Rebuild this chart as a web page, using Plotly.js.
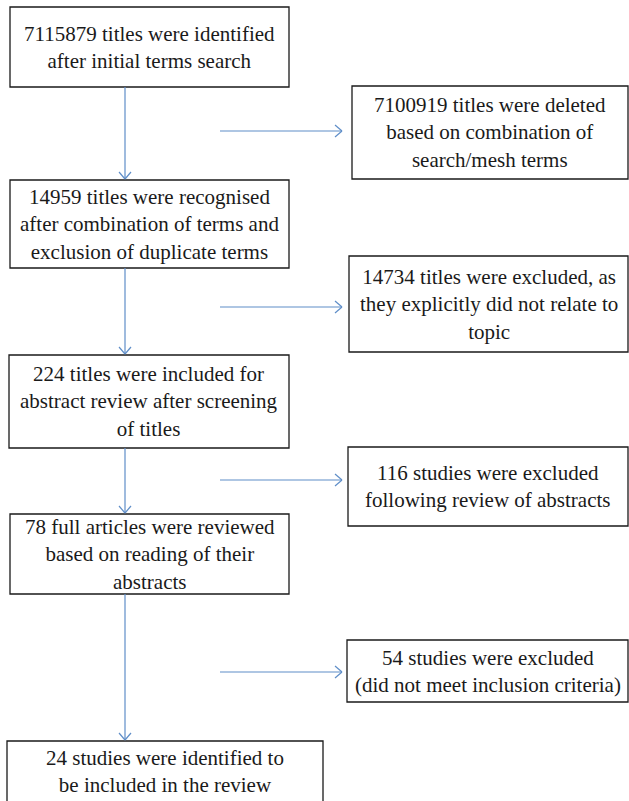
<!DOCTYPE html>
<html>
<head>
<meta charset="utf-8">
<script src="https://cdn.plot.ly/plotly-3.0.1.min.js"></script>
<style>html,body{margin:0;padding:0;background:#fff;}#chart{width:629px;height:801px;}</style>
</head>
<body>
<div id="chart"></div>
<script>
// ---- data: flowchart stage texts ----
const mainStages = [
  "7115879 titles were identified<br>after initial terms search",
  "14959 titles were recognised<br>after combination of terms and<br>exclusion of duplicate terms",
  "224 titles were included for<br>abstract review after screening<br>of titles",
  "78 full articles were reviewed<br>based on reading of their<br>abstracts",
  "24 studies were identified to<br>be included in the review"
];
const excludedStages = [
  "7100919 titles were deleted<br>based on combination of<br>search/mesh terms",
  "14734 titles were excluded, as<br>they explicitly did not relate to<br>topic",
  "116 studies were excluded<br>following review of abstracts",
  "54 studies were excluded<br>(did not meet inclusion criteria)"
];

// ---- layout geometry (pixels) ----
const mainBoxes = [[10,289,7,87],[10,289,180,268],[9,289,355,448],[10,289,514,594],[7,323,741,806]];
const sideBoxes = [[352,628,86,179],[349,628,256,352],[348,628,447,526],[347,628,640,702]];
const sideArrowY = [131, 307, 480, 672];
const spineX = 125;
const sideArrowX0 = 220, sideArrowX1 = 342;
const arrowColor = "#5f8ec8";
const fontFace = "Liberation Serif, Times New Roman, serif";
const fontSize = 21;

const shapes = [];
const annotations = [];

function rect(b){
  shapes.push({type:"rect", xref:"x", yref:"y", x0:b[0], x1:b[1], y0:b[2], y1:b[3],
    line:{color:"#1a1a1a", width:1.3}, fillcolor:"rgba(0,0,0,0)"});
}
function line(x0,y0,x1,y1){
  shapes.push({type:"line", xref:"x", yref:"y", x0:x0, y0:y0, x1:x1, y1:y1,
    line:{color:arrowColor, width:1.2}});
}
function label(text, b){
  annotations.push({xref:"x", yref:"y", x:(b[0]+b[1])/2, y:(b[2]+Math.min(b[3],801))/2,
    text:text, showarrow:false, align:"center", xanchor:"center", yanchor:"middle",
    font:{family:fontFace, size:fontSize, color:"#1a1a1a"}});
}

mainBoxes.forEach((b,i)=>{ rect(b); label(mainStages[i], b); });
sideBoxes.forEach((b,i)=>{ rect(b); label(excludedStages[i], b); });

// vertical arrows between main boxes
for (let i=0;i<mainBoxes.length-1;i++){
  const y0 = mainBoxes[i][3], y1 = mainBoxes[i+1][2]-1;
  line(spineX, y0, spineX, y1);
  line(spineX-6, y1-7, spineX, y1);
  line(spineX+6, y1-7, spineX, y1);
}
// horizontal arrows to excluded boxes
sideArrowY.forEach(y=>{
  line(sideArrowX0, y, sideArrowX1, y);
  line(sideArrowX1-7, y-6, sideArrowX1, y);
  line(sideArrowX1-7, y+6, sideArrowX1, y);
});

const layout = {
  width:629, height:801,
  margin:{l:0,r:0,t:0,b:0},
  paper_bgcolor:"#ffffff", plot_bgcolor:"#ffffff",
  xaxis:{range:[0,629], visible:false, fixedrange:true},
  yaxis:{range:[801,0], visible:false, fixedrange:true},
  shapes:shapes, annotations:annotations, showlegend:false
};
Plotly.newPlot("chart", [], layout, {staticPlot:true, displayModeBar:false});
</script>
</body>
</html>
